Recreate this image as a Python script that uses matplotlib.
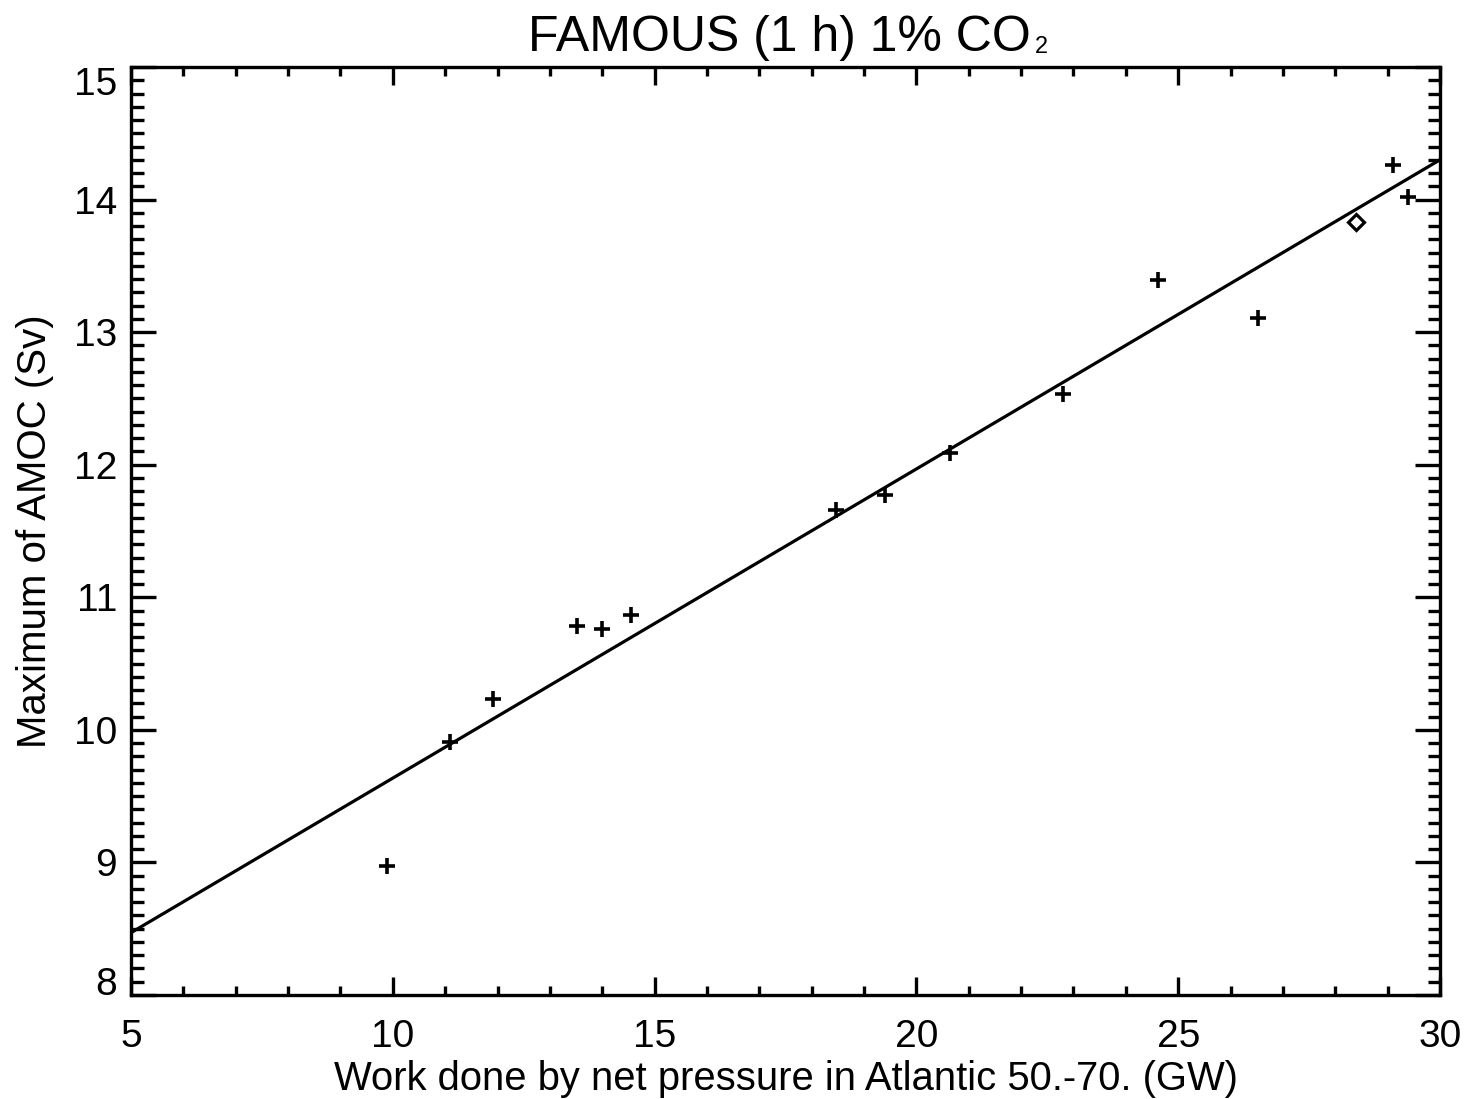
import matplotlib
matplotlib.use("Agg")
import matplotlib.pyplot as plt
import numpy as np
from matplotlib.ticker import MultipleLocator

plt.rcParams['font.family'] = ['Liberation Sans', 'DejaVu Sans']
plt.rcParams['mathtext.default'] = 'regular'

# data
work_gw = [9.89, 11.09, 11.91, 13.52, 14.00, 14.55, 18.46, 19.40, 20.64, 22.80,
           24.61, 26.52, 29.10, 29.39]
amoc_sv = [8.97, 9.91, 10.23, 10.78, 10.76, 10.87, 11.66, 11.77, 12.09, 12.53,
           13.39, 13.11, 14.26, 14.02]
ctrl_work = [28.40]
ctrl_amoc = [13.83]
fit_x = [5.0, 30.0]
fit_y = [8.47, 14.30]
xticks = [5, 10, 15, 20, 25, 30]
yticks = [8, 9, 10, 11, 12, 13, 14, 15]
title_main = 'FAMOUS (1 h) 1% CO'
title_sub = '2'

W, H = 1471, 1099
fig = plt.figure(figsize=(W / 100, H / 100), dpi=100)
ax = fig.add_axes([131 / W, 1 - 995 / H, (1440 - 131) / W, (995 - 67) / H])

ax.plot(fit_x, fit_y, color='black', lw=2.3, solid_capstyle='butt')
ax.plot(work_gw, amoc_sv, linestyle='none', marker='+', ms=11.5, mew=2.6, color='black')
ax.plot(ctrl_work, ctrl_amoc, linestyle='none', marker='D', ms=8.5, mew=2.3,
        mfc='none', mec='black')

ax.set_xlim(5, 30)
ax.set_ylim(8, 15)
ax.set_xticks(xticks)
ax.set_yticks(yticks)
ax.xaxis.set_minor_locator(MultipleLocator(1))
ax.yaxis.set_minor_locator(MultipleLocator(0.1))

for s in ax.spines.values():
    s.set_linewidth(2.4)

ax.tick_params(axis='both', which='both', direction='in', top=True, right=True,
               width=2.4, labelsize=28, colors='black')
ax.tick_params(axis='x', which='major', length=13, pad=17)
ax.tick_params(axis='x', which='minor', length=6.5)
ax.tick_params(axis='y', which='major', length=18, pad=10)
ax.tick_params(axis='y', which='minor', length=9)

fig.canvas.draw()
ylabs = ax.get_yticklabels()
ylabs[0].set_verticalalignment('baseline')
ylabs[-1].set_verticalalignment('top')

ax.set_xlabel('Work done by net pressure in Atlantic 50.-70. (GW)', fontsize=28.8, labelpad=4)
ax.set_ylabel('Maximum of AMOC (Sv)', fontsize=29, labelpad=14)

# title with small subscript
t = fig.text(528 / W, 1 - 51 / H, title_main, fontsize=36, ha='left', va='baseline')
fig.canvas.draw()
bb = t.get_window_extent(renderer=fig.canvas.get_renderer())
fig.text((bb.x1 + 4) / fig.bbox.width, 1 - 53 / H, title_sub, fontsize=17,
         ha='left', va='baseline')

fig.savefig('out.png', dpi=100)
